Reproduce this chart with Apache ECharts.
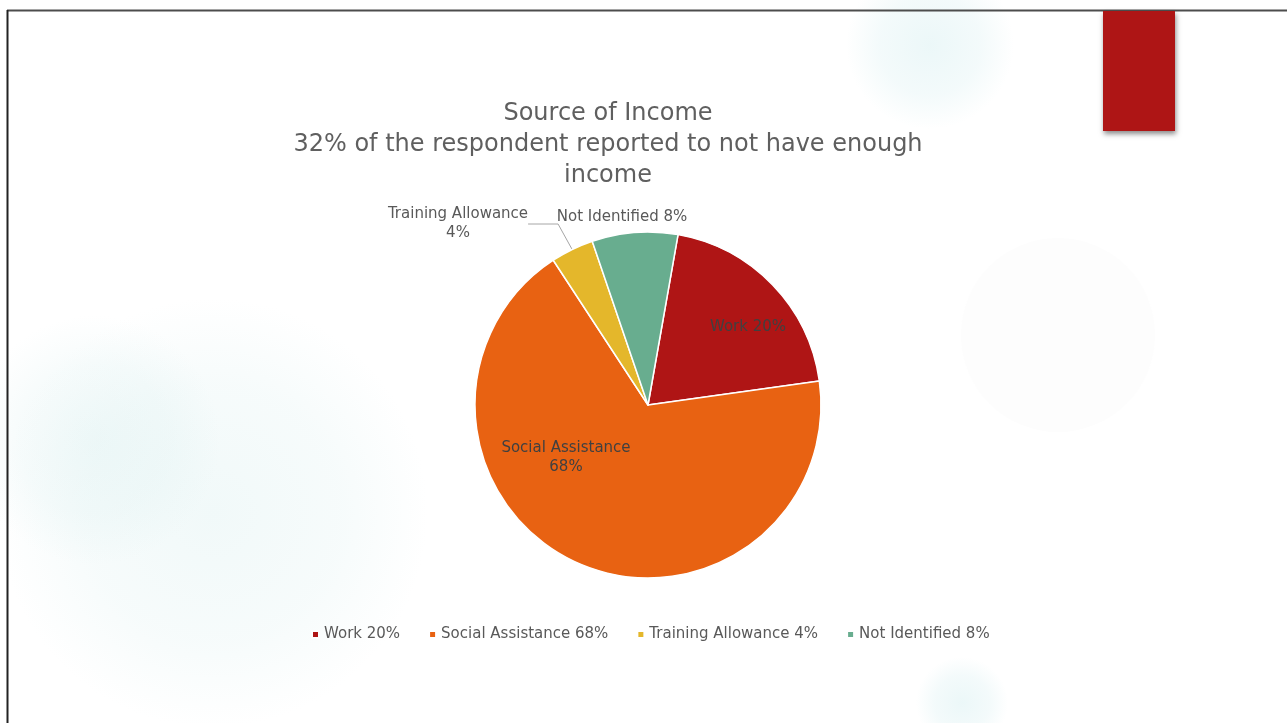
<!DOCTYPE html>
<html>
<head>
<meta charset="utf-8">
<title>Source of Income</title>
<script src="https://cdn.jsdelivr.net/npm/echarts@6/dist/echarts.min.js"></script>
<style>
  html, body { margin: 0; padding: 0; background: #fff; }
  #chart { width: 1287px; height: 723px; }
</style>
</head>
<body>
<div id="chart"></div>
<script>
// data
const categories = ['Work', 'Social Assistance', 'Training Allowance', 'Not Identified'];
const shares = [20, 68, 4, 8];
const sliceColors = ['#AF1515', '#E86212', '#E4B72B', '#68AD8F'];
const titleLines = ['Source of Income', '32% of the respondent reported to not have enough', 'income'];

// where the slide puts each data label (px)
const labelSpots = [[748, 327], [566, 458], [458, 224], [622, 217]];

const FONT = 'DejaVu Sans';
const chart = echarts.init(document.getElementById('chart'));

// soft teal blobs in the slide background
function blob(cx, cy, r, rgb, alpha) {
  return {
    type: 'circle',
    silent: true,
    shape: { cx: cx, cy: cy, r: r },
    style: {
      fill: {
        type: 'radial', x: 0.5, y: 0.5, r: 0.5,
        colorStops: [
          { offset: 0, color: 'rgba(' + rgb + ',' + alpha + ')' },
          { offset: 0.6, color: 'rgba(' + rgb + ',' + (alpha * 0.6) + ')' },
          { offset: 1, color: 'rgba(' + rgb + ',0)' }
        ]
      }
    }
  };
}

const pieData = categories.map((name, i) => ({
  name: name,
  value: shares[i],
  itemStyle: { color: sliceColors[i] },
  label: i < 2 ? { color: '#404040' } : { color: '#595959' },
  labelLine: { show: i === 2 }
}));

const option = {
  animation: false,
  backgroundColor: '#fff',
  title: {
    text: titleLines.join('\n'),
    left: 603,
    top: 93,
    textAlign: 'center',
    textStyle: {
      fontFamily: FONT,
      fontWeight: 'normal',
      fontSize: 24,
      lineHeight: 31,
      color: '#5f5f5f'
    }
  },
  legend: {
    bottom: 76,
    left: 306,
    icon: 'rect',
    itemWidth: 7,
    itemHeight: 7,
    itemGap: 28,
    textStyle: { fontFamily: FONT, fontSize: 15, color: '#595959' },
    formatter: name => name + ' ' + shares[categories.indexOf(name)] + '%',
    data: categories
  },
  graphic: [
    blob(213, 513, 215, '215,238,238', 0.35),
    blob(95, 440, 125, '210,236,236', 0.3),
    blob(930, 45, 84, '212,238,240', 0.45),
    blob(962, 703, 46, '212,238,240', 0.45),
    {
      type: 'circle', silent: true,
      shape: { cx: 1058, cy: 335, r: 97 },
      style: { fill: '#fdfdfd' }
    },
    {
      type: 'line', silent: true,
      shape: { x1: 7, y1: 10.5, x2: 1287, y2: 10.5 },
      style: { stroke: '#4d4d4d', lineWidth: 2 }
    },
    {
      type: 'line', silent: true,
      shape: { x1: 7.5, y1: 10, x2: 7.5, y2: 723 },
      style: { stroke: '#222', lineWidth: 2 }
    },
    {
      type: 'rect', silent: true,
      shape: { x: 1103, y: 11, width: 72, height: 120 },
      style: {
        fill: '#AE1515',
        shadowBlur: 5,
        shadowOffsetX: 1,
        shadowOffsetY: 3,
        shadowColor: 'rgba(0,0,0,0.45)'
      }
    }
  ],
  series: [
    {
      name: 'Source of Income',
      type: 'pie',
      center: [648, 405],
      radius: 173,
      startAngle: 80,
      clockwise: true,
      itemStyle: { borderColor: '#fff', borderWidth: 1.5 },
      label: {
        show: true,
        fontFamily: FONT,
        fontSize: 15,
        lineHeight: 19,
        align: 'center',
        formatter: p => p.name.length > 15 ? p.name + '\n' + p.value + '%' : p.name + ' ' + p.value + '%'
      },
      labelLine: {
        lineStyle: { color: '#a6a6a6', width: 1 },
        smooth: false
      },
      labelLayout: params => ({
        x: labelSpots[params.dataIndex][0],
        y: labelSpots[params.dataIndex][1],
        align: 'center',
        verticalAlign: 'middle'
      }),
      emphasis: { disabled: true },
      data: pieData
    }
  ]
};

chart.setOption(option);
window.addEventListener('resize', () => chart.resize());
</script>
</body>
</html>
